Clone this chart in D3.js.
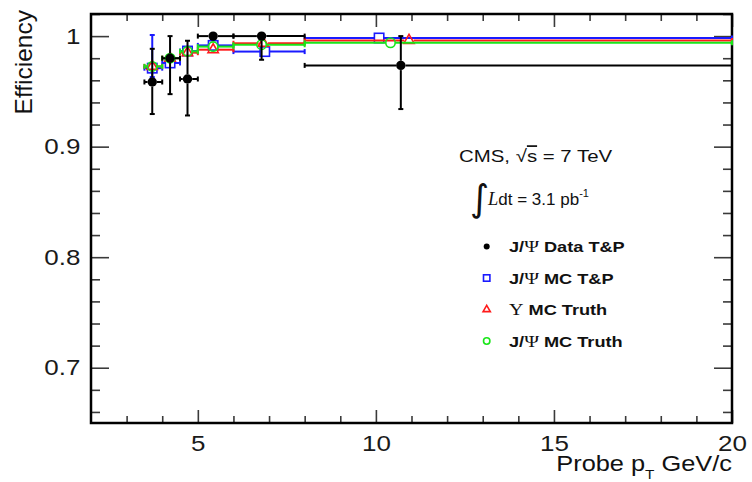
<!DOCTYPE html>
<html><head><meta charset="utf-8">
<script src="https://cdn.jsdelivr.net/npm/d3@7/dist/d3.min.js"></script>
<style>body{margin:0;background:#fff;}</style>
</head><body>
<svg id="c" width="752" height="482"></svg>
<script>
// ---------- data ----------
const binLo = [3.5, 4.0, 4.5, 5.0, 6.0, 8.0];
const binHi = [4.0, 4.5, 5.0, 6.0, 8.0, 20.0];

const dataTPx   = [3.72, 4.22, 4.71, 5.43, 6.79, 10.70];
const dataTPy   = [0.9585, 0.980, 0.9612, 1.000, 1.000, 0.9735];
const dataTPlo  = [0.029, 0.0325, 0.033, 0.001, 0.0214, 0.0395];
const dataTPhi  = [0.030, 0.020, 0.0346, 0.000, 0.000, 0.0265];

const mcTPx  = [3.72, 4.22, 4.71, 5.43, 6.88, 10.09];
const mcTPy  = [0.971, 0.9757, 0.9865, 0.9916, 0.986, 0.9983];
const mcTPlo = [0.008, 0.003, 0.003, 0.002, 0.003, 0.001];
const mcTPhi = [0.030, 0.003, 0.003, 0.002, 0.003, 0.001];

const upsTruthX  = [3.72, 4.22, 4.71, 5.43, 6.84, 10.93];
const upsTruthY  = [0.9726, 0.980, 0.985, 0.9877, 0.9935, 0.9961];
const upsTruthLo = [0.002, 0.002, 0.002, 0.002, 0.002, 0.001];
const upsTruthHi = [0.002, 0.002, 0.002, 0.002, 0.002, 0.001];

const jpsiTruthX  = [3.72, 4.22, 4.71, 5.43, 6.79, 10.41];
const jpsiTruthY  = [0.9726, 0.980, 0.9862, 0.9905, 0.9922, 0.9940];
const jpsiTruthLo = [0.002, 0.002, 0.002, 0.002, 0.002, 0.001];
const jpsiTruthHi = [0.002, 0.002, 0.002, 0.002, 0.002, 0.001];

const xMajorTicks = [5, 10, 15, 20];
const xMinorTicks = [3, 4, 6, 7, 8, 9, 11, 12, 13, 14, 16, 17, 18, 19];
const yMajorTicks = [0.7, 0.8, 0.9, 1.0];
const yMinorTicks = [0.66, 0.68, 0.72, 0.74, 0.76, 0.78, 0.82, 0.84, 0.86, 0.88, 0.92, 0.94, 0.96, 0.98, 1.02];
const yTickLabels = ["0.7", "0.8", "0.9", "1"];
const xTickLabels = ["5", "10", "15", "20"];

// ---------- setup ----------
const svg = d3.select("#c");
const FONT = "'Liberation Sans', Arial, Helvetica, sans-serif";
const SERIF = "'Liberation Serif', 'Times New Roman', serif";
const SX = 1.18;
const x = d3.scaleLinear().domain([2, 20]).range([91, 732]);
const y = d3.scaleLinear().domain([0.65, 1.02]).range([423, 14]);

function styleAxis(g) {
  g.select(".domain").remove();
  g.selectAll("line").attr("stroke", "#3a3a3a").attr("stroke-width", 1.6);
  g.attr("font-family", FONT).attr("font-size", 22);
  g.selectAll("text").attr("fill", "#1a1a1a").attr("transform", `scale(${SX},1)`);
  return g;
}
// left
styleAxis(svg.append("g").attr("transform", "translate(91,0)")
  .call(d3.axisLeft(y).tickValues(yMajorTicks).tickSize(-18).tickPadding(9)
    .tickFormat((d, i) => yTickLabels[i])));
styleAxis(svg.append("g").attr("transform", "translate(91,0)")
  .call(d3.axisLeft(y).tickValues(yMinorTicks).tickSize(-9).tickFormat("")));
// right
styleAxis(svg.append("g").attr("transform", "translate(732,0)")
  .call(d3.axisRight(y).tickValues(yMajorTicks).tickSize(-18).tickFormat("")));
styleAxis(svg.append("g").attr("transform", "translate(732,0)")
  .call(d3.axisRight(y).tickValues(yMinorTicks).tickSize(-9).tickFormat("")));
// bottom
styleAxis(svg.append("g").attr("transform", "translate(0,423)")
  .call(d3.axisBottom(x).tickValues(xMajorTicks).tickSize(-13).tickPadding(12)
    .tickFormat((d, i) => xTickLabels[i])));
styleAxis(svg.append("g").attr("transform", "translate(0,423)")
  .call(d3.axisBottom(x).tickValues(xMinorTicks).tickSize(-7).tickFormat("")));
// top
styleAxis(svg.append("g").attr("transform", "translate(0,14)")
  .call(d3.axisTop(x).tickValues(xMajorTicks).tickSize(-13).tickFormat("")));
styleAxis(svg.append("g").attr("transform", "translate(0,14)")
  .call(d3.axisTop(x).tickValues(xMinorTicks).tickSize(-7).tickFormat("")));

// frame
svg.append("rect").attr("x", x(2)).attr("y", y(1.02))
  .attr("width", x(20) - x(2)).attr("height", y(0.65) - y(1.02))
  .attr("fill", "none").attr("stroke", "#000").attr("stroke-width", 2.5);

// ---------- series ----------
function drawSeries(xs, ys, lo, hi, color, shape, r) {
  const g = svg.append("g").attr("stroke", color).attr("stroke-width", 2).attr("fill", "none");
  const c = 2.5;
  xs.forEach((xv, i) => {
    const cx = x(xv), cy = y(ys[i]);
    const x0 = x(binLo[i]), x1 = x(binHi[i]);
    const yl = y(ys[i] - lo[i]), yh = y(ys[i] + hi[i]);
    const segs = [];
    if (cx - r > x0) segs.push([x0, cy, cx - r, cy]);
    if (x1 > cx + r) segs.push([cx + r, cy, x1, cy]);
    segs.push([x0, cy - c, x0, cy + c]);
    segs.push([x1, cy - c, x1, cy + c]);
    if (yl > cy + r) { segs.push([cx, cy + r, cx, yl]); segs.push([cx - c, yl, cx + c, yl]); }
    if (cy - r > yh) { segs.push([cx, yh, cx, cy - r]); segs.push([cx - c, yh, cx + c, yh]); }
    segs.forEach(s => g.append("line").attr("x1", s[0]).attr("y1", s[1]).attr("x2", s[2]).attr("y2", s[3]));
    drawMarker(g, shape, cx, cy, r, color);
  });
}
function drawMarker(g, shape, cx, cy, r, color) {
  if (shape === "dot") {
    g.append("circle").attr("cx", cx).attr("cy", cy).attr("r", r).attr("fill", color).attr("stroke", "none");
  } else if (shape === "circle") {
    g.append("circle").attr("cx", cx).attr("cy", cy).attr("r", r).attr("fill", "none").attr("stroke-width", 1.6);
  } else if (shape === "square") {
    g.append("rect").attr("x", cx - r).attr("y", cy - r).attr("width", 2 * r).attr("height", 2 * r)
      .attr("fill", "none").attr("stroke-width", 1.6);
  } else if (shape === "triangle") {
    const s = 2.2 * r;
    g.append("path").attr("transform", `translate(${cx},${cy})`)
      .attr("d", d3.symbol().type(d3.symbolTriangle).size(s * s * Math.sqrt(3) / 4)())
      .attr("fill", "none").attr("stroke-width", 1.6);
  }
}

const BLUE = "#1a1aff", RED = "#ff1a1a", GREEN = "#19e619", BLACK = "#000";
drawSeries(mcTPx, mcTPy, mcTPlo, mcTPhi, BLUE, "square", 4.7);
drawSeries(upsTruthX, upsTruthY, upsTruthLo, upsTruthHi, RED, "triangle", 4.7);
drawSeries(jpsiTruthX, jpsiTruthY, jpsiTruthLo, jpsiTruthHi, GREEN, "circle", 4.7);
drawSeries(dataTPx, dataTPy, dataTPlo, dataTPhi, BLACK, "dot", 4.7);

// ---------- texts ----------
function stext(x0, y0, anchor, size, weight, rot, sx) {
  const k = sx || SX;
  const g = svg.append("g").attr("transform", `translate(${x0},${y0})` + (rot ? ` rotate(${rot})` : ` scale(${k},1)`));
  return g.append("text").attr("text-anchor", anchor).attr("font-size", size)
    .attr("font-weight", weight || "normal").attr("font-family", FONT).attr("fill", "#111");
}
// y title
stext(31.5, 10, "end", 24.5, "normal", -90).text("Efficiency");
// x title
{
  const t = stext(732, 471, "end", 21.5);
  t.append("tspan").text("Probe p");
  t.append("tspan").attr("font-size", 13).attr("dy", 8).text("T");
  t.append("tspan").attr("dy", -8).text(" GeV/c");
}
// CMS label
{
  const t = stext(459, 161.7, "start", 17.3);
  t.append("tspan").text("CMS, ");
  t.append("tspan").text("\u221A");
  t.append("tspan").style("text-decoration", "overline").text("s");
  t.append("tspan").text(" = 7 TeV");
}
// integral
svg.append("text").attr("x", 470).attr("y", 211).attr("font-family", "'DejaVu Sans', sans-serif")
  .attr("font-size", 37).attr("fill", "#111").text("\u222B");
{
  const t = stext(488, 205, "start", 17, "normal", null, 1.0);
  t.append("tspan").attr("font-family", SERIF).attr("font-style", "italic").attr("font-size", 18.5).text("L");
  t.append("tspan").text("dt = 3.1 pb");
  t.append("tspan").attr("font-size", 11).attr("dy", -8).text("-1");
}

// legend
const legendParts = [
  [["J/", FONT, "bold"], ["\u03A8", SERIF, "normal"], [" Data T&P", FONT, "bold"]],
  [["J/", FONT, "bold"], ["\u03A8", SERIF, "normal"], [" MC T&P", FONT, "bold"]],
  [["\u03A5", SERIF, "normal"], [" MC Truth", FONT, "bold"]],
  [["J/", FONT, "bold"], ["\u03A8", SERIF, "normal"], [" MC Truth", FONT, "bold"]]
];
const legendShapes = ["dot", "square", "triangle", "circle"];
const legendColors = [BLACK, BLUE, RED, GREEN];
const legendRadius = [3, 3.2, 3.3, 3.2];
const rowY = d3.scaleLinear().domain([0, 3]).range([252, 346.5]);
legendParts.forEach((parts, i) => {
  const t = stext(509, rowY(i), "start", 15.4, "bold");
  parts.forEach(p => t.append("tspan").attr("font-family", p[1]).attr("font-weight", p[2])
    .attr("font-size", p[1] === SERIF ? 17 : 15.4).text(p[0]));
  const g = svg.append("g").attr("stroke", legendColors[i]).attr("fill", "none");
  drawMarker(g, legendShapes[i], 486.7, rowY(i) - 5.5, legendRadius[i], legendColors[i]);
});
</script>
</body></html>
